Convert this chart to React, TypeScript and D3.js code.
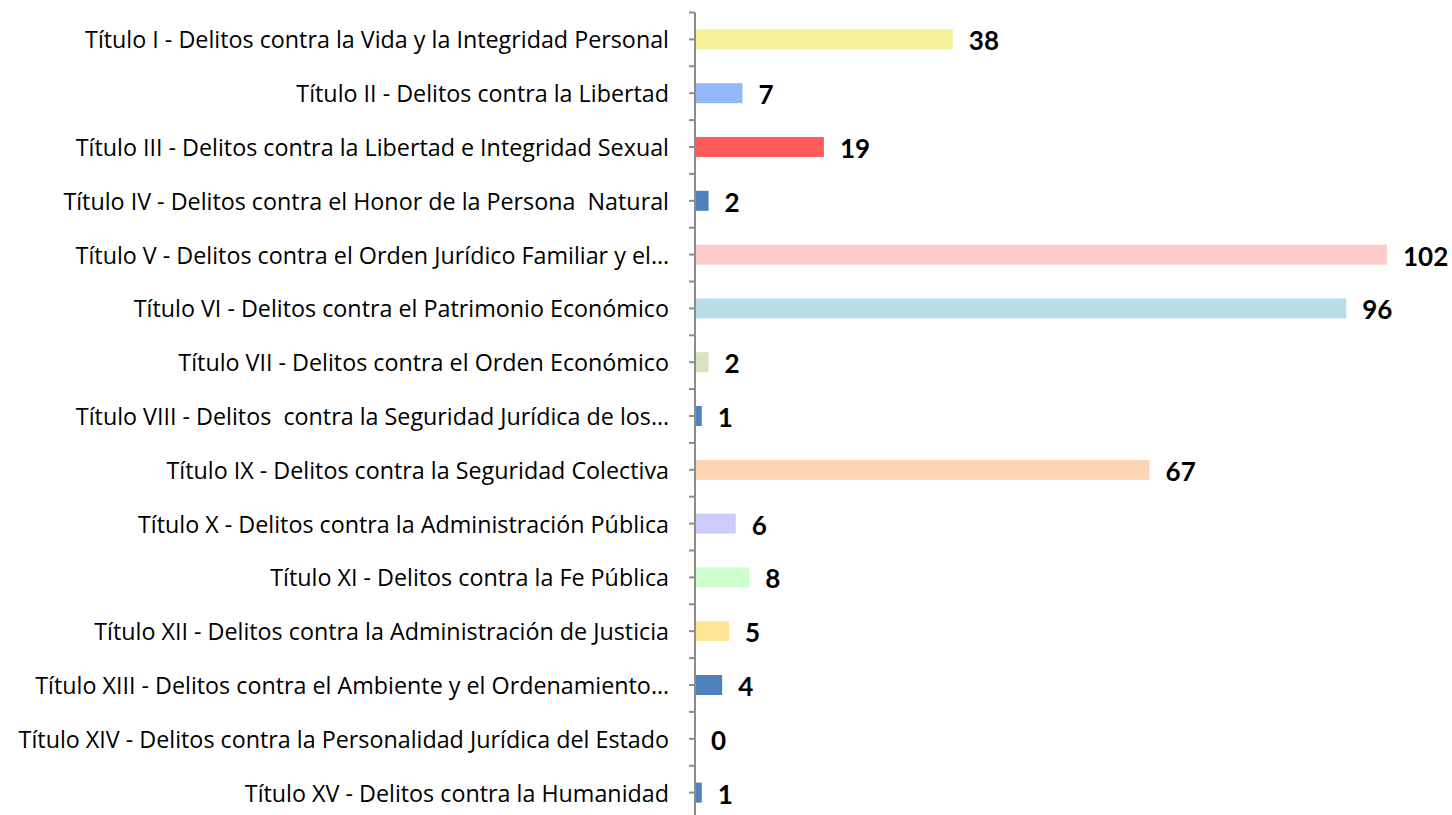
import React, { useEffect, useRef } from 'react';
import * as d3 from 'd3';

const categories = [
    'Título I - Delitos contra la Vida y la Integridad Personal',
    'Título II - Delitos contra la Libertad',
    'Título III - Delitos contra la Libertad e Integridad Sexual',
    'Título IV - Delitos contra el Honor de la Persona  Natural',
    'Título V - Delitos contra el Orden Jurídico Familiar y el…',
    'Título VI - Delitos contra el Patrimonio Económico',
    'Título VII - Delitos contra el Orden Económico',
    'Título VIII - Delitos  contra la Seguridad Jurídica de los…',
    'Título IX - Delitos contra la Seguridad Colectiva',
    'Título X - Delitos contra la Administración Pública',
    'Título XI - Delitos contra la Fe Pública',
    'Título XII - Delitos contra la Administración de Justicia',
    'Título XIII - Delitos contra el Ambiente y el Ordenamiento…',
    'Título XIV - Delitos contra la Personalidad Jurídica del Estado',
    'Título XV - Delitos contra la Humanidad',
];

const values = [38, 7, 19, 2, 102, 96, 2, 1, 67, 6, 8, 5, 4, 0, 1];

const barColors = [
    '#F5F19B', '#94B8F9', '#FF5B5B', '#4F81BD', '#FFCCCC',
    '#B7DEE8', '#D7E4BD', '#4F81BD', '#FCD5B4', '#CCCCFF',
    '#CCFFCC', '#FFE591', '#4F81BD', '#4F81BD', '#4F81BD',
];

const App: React.FC = () => {
    const chartRef = useRef<SVGSVGElement>(null);

    useEffect(() => {
        const width = 1452;
        const height = 815;
        const axisX = 695;
        const top = 12.5;
        const rowH = 53.8;

        const svg = d3.select(chartRef.current);
        svg.selectAll('*').remove();
        svg.attr('width', width).attr('height', height);

        const x = d3.scaleLinear().domain([0, 102]).range([axisX, 1387]);
        const y = d3.scaleBand<string>()
            .domain(categories)
            .range([top, top + rowH * categories.length])
            .paddingInner(0);
        const barH = 20;

        const rows = categories.map((c, i) => ({ c, v: values[i], color: barColors[i] }));

        // bars
        svg.append('g')
            .selectAll('rect')
            .data(rows)
            .enter()
            .append('rect')
            .attr('x', axisX + 1)
            .attr('y', d => (y(d.c) as number) + y.bandwidth() / 2 - barH / 2)
            .attr('width', d => Math.max(0, x(d.v) - axisX - 1))
            .attr('height', barH)
            .attr('fill', d => d.color);

        // category labels
        svg.append('g')
            .selectAll('text')
            .data(rows)
            .enter()
            .append('text')
            .attr('x', axisX - 26)
            .attr('y', d => (y(d.c) as number) + y.bandwidth() / 2)
            .attr('text-anchor', 'end')
            .attr('dominant-baseline', 'central')
            .style('font-family', '"Open Sans", sans-serif')
            .style('font-size', '23.3px')
            .style('white-space', 'pre')
            .style('fill', '#000')
            .text(d => d.c);

        // value labels
        svg.append('g')
            .selectAll('text')
            .data(rows)
            .enter()
            .append('text')
            .attr('x', d => x(d.v) + 16)
            .attr('y', d => (y(d.c) as number) + y.bandwidth() / 2 + 1)
            .attr('dominant-baseline', 'central')
            .style('font-family', 'Lato, sans-serif')
            .style('font-size', '26px')
            .style('font-weight', 'bold')
            .style('fill', '#000')
            .text(d => d.v);

        // axis line with ticks at band edges and centers
        const ticks: number[] = [];
        categories.forEach(c => {
            ticks.push(y(c) as number);
            ticks.push((y(c) as number) + y.bandwidth() / 2);
        });
        const axis = svg.append('g');
        axis.append('line')
            .attr('x1', axisX).attr('x2', axisX)
            .attr('y1', top).attr('y2', height)
            .attr('stroke', '#8C8C8C').attr('stroke-width', 2);
        axis.selectAll('line.tick')
            .data(ticks)
            .enter()
            .append('line')
            .attr('class', 'tick')
            .attr('x1', axisX - 6).attr('x2', axisX)
            .attr('y1', d => d).attr('y2', d => d)
            .attr('stroke', '#8C8C8C').attr('stroke-width', 2);
    }, []);

    return (
        <div style={{ position: 'absolute', left: 0, top: 0 }}>
            <svg ref={chartRef}></svg>
        </div>
    );
};

export default App;
